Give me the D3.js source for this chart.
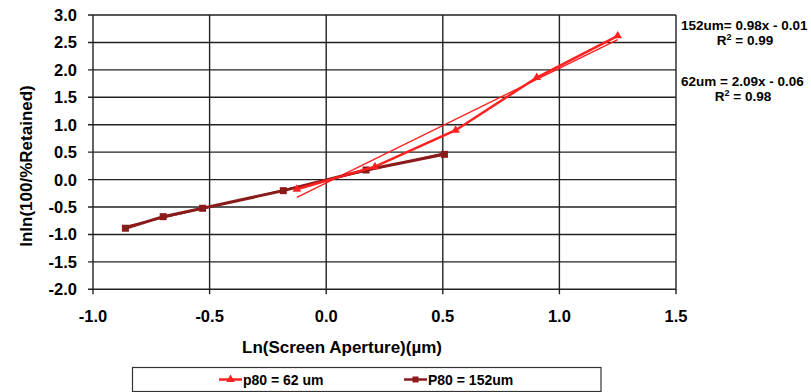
<!DOCTYPE html>
<html>
<head>
<meta charset="utf-8">
<script src="https://cdn.jsdelivr.net/npm/d3@7"></script>
<style>
  body { margin: 0; background: #fff; }
  text { font-family: Arial, "Liberation Sans", sans-serif; font-weight: bold; fill: #000; }
</style>
</head>
<body>
<div id="chart"></div>
<script>
// data
const xTicks = [-1.0, -0.5, 0.0, 0.5, 1.0, 1.5];
const yTicks = [-2.0, -1.5, -1.0, -0.5, 0.0, 0.5, 1.0, 1.5, 2.0, 2.5, 3.0];

const p62x = [-0.126, 0.209, 0.555, 0.903, 1.25];
const p62y = [-0.177, 0.235, 0.90, 1.86, 2.62];
const p152x = [-0.861, -0.699, -0.530, -0.184, 0.171, 0.507];
const p152y = [-0.887, -0.676, -0.523, -0.202, 0.175, 0.46];

// trendlines: slope, intercept
const fit62 = [2.09, -0.06];
const fit152 = [0.98, -0.01];

const RED = '#ff2020';
const DARK = '#8b1a1a';

const W = 811, H = 392;
const margin = { top: 15, right: 135, bottom: 103, left: 93 };

const svg = d3.select('#chart').append('svg')
  .attr('width', W).attr('height', H);

const x = d3.scaleLinear().domain([-1, 1.5]).range([margin.left, 676]);
const y = d3.scaleLinear().domain([-2, 3]).range([289.3, margin.top]);

// grid
svg.append('g').selectAll('line.h').data(yTicks).join('line')
  .attr('x1', x(-1) - 5).attr('x2', x(1.5))
  .attr('y1', d => y(d)).attr('y2', d => y(d))
  .attr('stroke', '#222').attr('stroke-width', 1.4);
svg.append('g').selectAll('line.v').data(xTicks).join('line')
  .attr('x1', d => x(d)).attr('x2', d => x(d))
  .attr('y1', y(3)).attr('y2', y(-2) + 5)
  .attr('stroke', '#222').attr('stroke-width', 1.4);

// tick labels
svg.append('g').selectAll('text').data(yTicks).join('text')
  .attr('x', 77).attr('y', d => y(d) + 6)
  .attr('text-anchor', 'end').style('font-size', '16.5px')
  .text(d => d3.format('.1f')(d).replace('−', '-'));
svg.append('g').selectAll('text').data(xTicks).join('text')
  .attr('x', d => x(d)).attr('y', 321.5)
  .attr('text-anchor', 'middle').style('font-size', '16.5px')
  .text(d => d3.format('.1f')(d).replace('−', '-'));

// axis titles
svg.append('text').attr('x', 342).attr('y', 352.5)
  .attr('text-anchor', 'middle').style('font-size', '17px')
  .text('Ln(Screen Aperture)(µm)');
svg.append('text')
  .attr('transform', 'translate(32,166) rotate(-90)')
  .attr('text-anchor', 'middle').style('font-size', '17px')
  .text('lnln(100/%Retained)');

// trendlines
function trend(xs, fit, color) {
  const ext = d3.extent(xs);
  svg.append('line')
    .attr('x1', x(ext[0])).attr('y1', y(fit[0] * ext[0] + fit[1]))
    .attr('x2', x(ext[1])).attr('y2', y(fit[0] * ext[1] + fit[1]))
    .attr('stroke', color).attr('stroke-width', 1.5);
}
trend(p152x, fit152, DARK);
trend(p62x, fit62, RED);

const line = d3.line().x(d => x(d[0])).y(d => y(d[1]));

// P80 = 152um
const d152 = p152x.map((v, i) => [v, p152y[i]]);
svg.append('path').datum(d152).attr('d', line)
  .attr('fill', 'none').attr('stroke', DARK).attr('stroke-width', 3);
svg.append('g').selectAll('rect').data(d152).join('rect')
  .attr('x', d => x(d[0]) - 3.5).attr('y', d => y(d[1]) - 3.5)
  .attr('width', 7).attr('height', 7).attr('fill', DARK);

// p80 = 62 um
const d62 = p62x.map((v, i) => [v, p62y[i]]);
svg.append('path').datum(d62).attr('d', line)
  .attr('fill', 'none').attr('stroke', RED).attr('stroke-width', 2.5);
const tri = d3.symbol().type(d3.symbolTriangle).size(32);
svg.append('g').selectAll('path').data(d62).join('path')
  .attr('d', tri)
  .attr('transform', d => `translate(${x(d[0])},${y(d[1])})`)
  .attr('fill', RED);

// equations
const eq = svg.append('g').style('font-size', '13.5px');
eq.append('text').attr('x', 681).attr('y', 30).text('152um= 0.98x - 0.01');
const r1 = eq.append('text').attr('x', 745).attr('y', 45).attr('text-anchor', 'middle');
r1.append('tspan').text('R');
r1.append('tspan').attr('dy', -5).style('font-size', '9px').text('2');
r1.append('tspan').attr('dy', 5).text(' = 0.99');
eq.append('text').attr('x', 681).attr('y', 86).text('62um = 2.09x - 0.06');
const r2 = eq.append('text').attr('x', 743).attr('y', 100.5).attr('text-anchor', 'middle');
r2.append('tspan').text('R');
r2.append('tspan').attr('dy', -5).style('font-size', '9px').text('2');
r2.append('tspan').attr('dy', 5).text(' = 0.98');

// legend
const lg = svg.append('g');
lg.append('rect').attr('x', 132.5).attr('y', 367.5).attr('width', 468.5).attr('height', 24)
  .attr('fill', '#fff').attr('stroke', '#333').attr('stroke-width', 1.2);
const legendItems = [
  { name: 'p80 = 62 um', color: RED, x0: 219, kind: 'tri' },
  { name: 'P80 = 152um', color: DARK, x0: 404, kind: 'sq' }
];
legendItems.forEach(it => {
  lg.append('line').attr('x1', it.x0).attr('x2', it.x0 + 23)
    .attr('y1', 379.5).attr('y2', 379.5)
    .attr('stroke', it.color).attr('stroke-width', 2.5);
  if (it.kind === 'tri') {
    lg.append('path').attr('d', tri).attr('transform', `translate(${it.x0 + 11.5},379.5)`).attr('fill', it.color);
  } else {
    lg.append('rect').attr('x', it.x0 + 8.5).attr('y', 376.5).attr('width', 6).attr('height', 6).attr('fill', it.color);
  }
  lg.append('text').attr('x', it.x0 + 24).attr('y', 385).style('font-size', '14px').text(it.name);
});
</script>
</body>
</html>
